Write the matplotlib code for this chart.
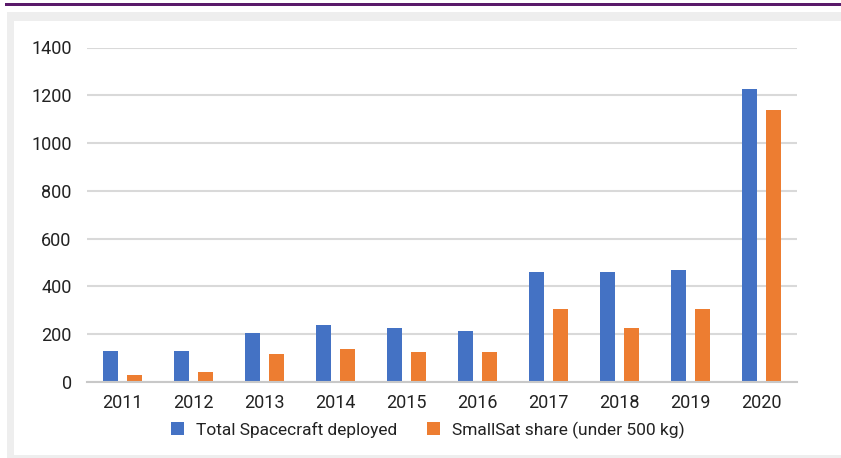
import numpy as np
import matplotlib.pyplot as plt
from matplotlib.patches import Rectangle

years = ['2011', '2012', '2013', '2014', '2015', '2016', '2017', '2018', '2019', '2020']
total_deployed = [128, 128, 205, 239, 227, 215, 459, 459, 468, 1225]
smallsat_share = [30, 41, 118, 139, 127, 127, 304, 227, 304, 1139]
y_ticks = [0, 200, 400, 600, 800, 1000, 1200, 1400]

plt.rcParams['font.family'] = ['Roboto', 'DejaVu Sans']
text_color = '#222222'

W, H = 841, 458
fig = plt.figure(figsize=(W / 100, H / 100), dpi=100)

# page frame: purple rule, grey border, white panel
fig.add_artist(Rectangle((5 / W, 1 - 5.8 / H), 1, 2.6 / H, transform=fig.transFigure,
                         color='#5a1a6a', lw=0, zorder=-3))
fig.add_artist(Rectangle((7 / W, 0), 1, 1 - 12 / H, transform=fig.transFigure,
                         color='#eeeeee', lw=0, zorder=-3))
fig.add_artist(Rectangle((14 / W, 3 / H), 1, 1 - 24 / H, transform=fig.transFigure,
                         color='white', lw=0, zorder=-2))

ax = fig.add_axes([87 / W, 1 - 382 / H, 710 / W, (382 - 47.5) / H])
ax.set_facecolor('none')

x = np.arange(len(years))
w = 0.225
off = 0.169
ax.bar(x - off, total_deployed, w, color='#4472C4', label='Total Spacecraft deployed', zorder=3)
ax.bar(x + off, smallsat_share, w, color='#ED7D31', label='SmallSat share (under 500 kg)', zorder=3)

ax.set_xlim(-0.5, len(years) - 0.5)
ax.set_ylim(0, 1400)
ax.set_yticks(y_ticks)
ax.set_xticks(x)
ax.set_xticklabels(years)
ax.yaxis.grid(True, color='#d9d9d9', lw=1.5, zorder=0)
ax.tick_params(length=0, labelsize=13, colors=text_color)
ax.tick_params(axis='y', pad=11)
ax.tick_params(axis='x', pad=9)
for s in ['top', 'right', 'left']:
    ax.spines[s].set_visible(False)
ax.spines['bottom'].set_color('#c8c8c8')
ax.spines['bottom'].set_linewidth(1.5)
ax.spines['bottom'].set_zorder(4)

leg = fig.legend(loc='center', bbox_to_anchor=(428 / W, 1 - 430 / H), ncol=2, frameon=False,
                 fontsize=12.5, handlelength=0.75, handleheight=0.75, handletextpad=0.7,
                 columnspacing=1.7)
for t in leg.get_texts():
    t.set_color(text_color)

fig.savefig('out.png', dpi=100)
